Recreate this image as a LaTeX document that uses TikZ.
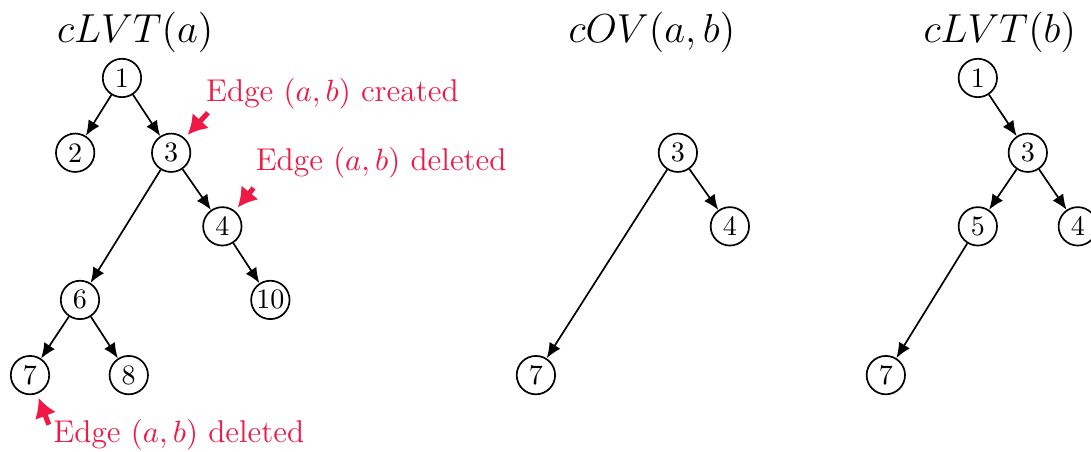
\documentclass[tikz,border=0pt]{standalone}
\usepackage{amsmath,amssymb}
\usepackage{tikz}
\usetikzlibrary{arrows.meta, positioning}
\definecolor{edgered}{RGB}{240,25,70}

\begin{document}
\begin{tikzpicture}[>={Latex[length=1.9mm,width=1.6mm]}, semithick,
    vtx/.style={circle, draw, semithick, inner sep=0pt, minimum size=0.48cm},
    note/.style={text=edgered, anchor=west, font=\fontsize{11.2pt}{13pt}\selectfont},
    redarr/.style={draw=edgered, line width=1.8pt, -{Latex[length=2.4mm,width=2.8mm]}, shorten >=1.5pt}]
    \useasboundingbox (0,0) rectangle (13.64,-5.64);

    % titles
    \node[font=\Large] (ta) at (1.69,-0.4) {$cLVT(a)$};
    \node[font=\Large] (tov) at (8.15,-0.4) {$cOV(a,b)$};
    \node[font=\Large] (tb) at (12.5,-0.4) {$cLVT(b)$};

    % cLVT(a)
    \node[vtx] (a1) at (1.525,-0.975) {1};
    \node[vtx] (a2) at (0.94,-1.91) {2};
    \node[vtx] (a3) at (2.14,-1.91) {3};
    \node[vtx] (a4) at (2.78,-2.83) {4};
    \node[vtx] (a6) at (1.0,-3.75) {6};
    \node[vtx] (a10) at (3.38,-3.75) {10};
    \node[vtx] (a7) at (0.375,-4.69) {7};
    \node[vtx] (a8) at (1.61,-4.69) {8};
    \draw[->] (a1) -- (a2);
    \draw[->] (a1) -- (a3);
    \draw[->] (a3) -- (a4);
    \draw[->] (a3) -- (a6);
    \draw[->] (a4) -- (a10);
    \draw[->] (a6) -- (a7);
    \draw[->] (a6) -- (a8);

    % cOV(a,b)
    \node[vtx] (o3) at (8.475,-1.91) {3};
    \node[vtx] (o4) at (9.125,-2.83) {4};
    \node[vtx] (o7) at (6.7,-4.69) {7};
    \draw[->] (o3) -- (o4);
    \draw[->] (o3) -- (o7);

    % cLVT(b)
    \node[vtx] (b1) at (12.225,-0.975) {1};
    \node[vtx] (b3) at (12.85,-1.91) {3};
    \node[vtx] (b5) at (12.225,-2.83) {5};
    \node[vtx] (b4) at (13.475,-2.83) {4};
    \node[vtx] (b7) at (11.075,-4.69) {7};
    \draw[->] (b1) -- (b3);
    \draw[->] (b3) -- (b5);
    \draw[->] (b3) -- (b4);
    \draw[->] (b5) -- (b7);

    % edge changes
    \node[note] (n1) at (2.45,-1.17) {Edge $(a,b)$ created};
    \node[note] (n2) at (3.07,-2.04) {Edge $(a,b)$ deleted};
    \node[note] (n3) at (0.54,-5.44) {Edge $(a,b)$ deleted};
    \coordinate (p1) at (2.6,-1.41);
    \coordinate (p2) at (3.17,-2.35);
    \coordinate (p3) at (0.61,-5.31);
    \draw[redarr] (p1) -- (a3);
    \draw[redarr] (p2) -- (a4);
    \draw[redarr] (p3) -- (a7);
\end{tikzpicture}
\end{document}
